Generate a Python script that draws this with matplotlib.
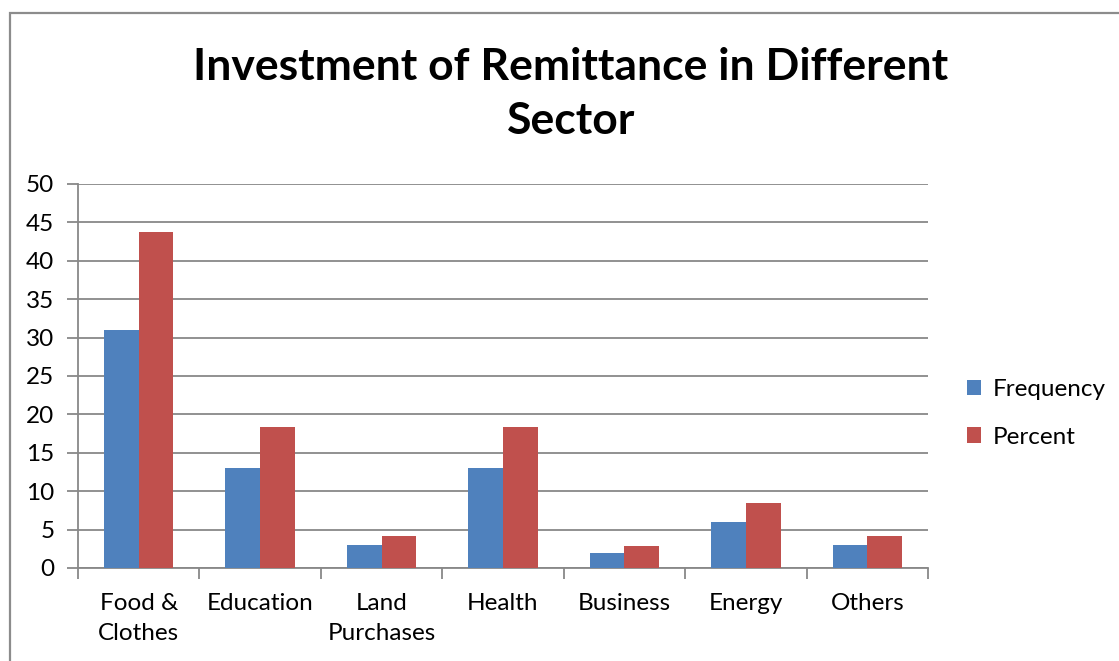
import matplotlib
matplotlib.use('Agg')
import matplotlib.pyplot as plt
from matplotlib.patches import Rectangle
import numpy as np

plt.rcParams['font.family'] = ['Lato', 'DejaVu Sans']

sectors = ['Food &\nClothes', 'Education', 'Land\nPurchases', 'Health',
           'Business', 'Energy', 'Others']
frequency = [31, 13, 3, 13, 2, 6, 3]
percent = [43.7, 18.3, 4.2, 18.3, 2.8, 8.5, 4.2]
series_names = ['Frequency', 'Percent']

BLUE = '#4F81BD'
RED = '#C0504D'
GRID = '#888888'

fig = plt.figure(figsize=(11.19, 6.61), dpi=100)
fig.patch.set_facecolor('white')

# outer chart frame (runs off the right/bottom edge)
fig.patches.append(Rectangle((10 / 1119, -0.05), 1.2, (661 - 13) / 661 + 0.05,
                             transform=fig.transFigure, fill=False,
                             edgecolor='#8c8c8c', linewidth=1.6))

ax = fig.add_axes([78 / 1119, 1 - 568 / 661, (928 - 78) / 1119, (568 - 184) / 661])

x = np.arange(len(sectors))
w = 1 / 3.5
ax.bar(x - w / 2, frequency, width=w, color=BLUE, label=series_names[0], zorder=3)
ax.bar(x + w / 2, percent, width=w, color=RED, label=series_names[1], zorder=3)

ax.set_xlim(-0.5, len(sectors) - 0.5)
ax.set_ylim(0, 50)
ax.set_yticks(np.arange(0, 51, 5))
ax.yaxis.grid(True, color=GRID, linewidth=1.3, zorder=0)
ax.set_axisbelow(True)

ax.set_xticks(x)
ax.set_xticklabels(sectors, fontsize=17.5, linespacing=1.55)
ax.set_xticks(np.arange(-0.5, len(sectors)), minor=True)
ax.tick_params(axis='x', which='major', length=0, pad=18)
ax.tick_params(axis='x', which='minor', length=8, width=1.3, color=GRID)
ax.tick_params(axis='y', length=8, width=1.3, color=GRID, labelsize=17.5, pad=9)
for lab in ax.get_xticklabels():
    lab.set_verticalalignment('top')

for side in ['top', 'right']:
    ax.spines[side].set_visible(False)
for side in ['left', 'bottom']:
    ax.spines[side].set_color(GRID)
    ax.spines[side].set_linewidth(1.3)

fig.text(571 / 1119, 1 - 94 / 661, 'Investment of Remittance in Different\nSector',
         ha='center', va='center', fontsize=32, fontweight='bold', linespacing=1.45)

ax.legend(loc='center left', bbox_to_anchor=(1.02, 0.403), frameon=False,
          fontsize=17.5, handlelength=0.6, handleheight=0.6, handletextpad=0.45,
          labelspacing=1.1)

fig.savefig('out.png', dpi=100)
